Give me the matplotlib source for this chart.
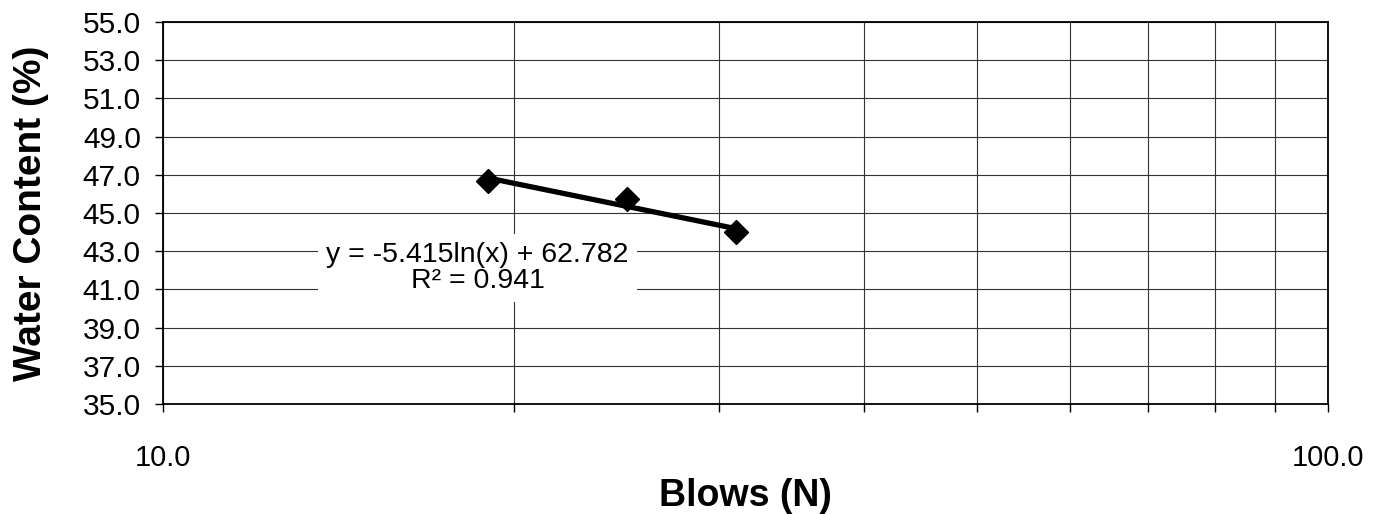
import numpy as np
import matplotlib
matplotlib.use('Agg')
import matplotlib.pyplot as plt
from matplotlib.ticker import FixedLocator, NullFormatter

plt.rcParams['font.family'] = ['Liberation Sans', 'DejaVu Sans']

# Liquid limit test: blows vs water content
golpes = [19, 25, 31]
umidade = [46.7, 45.75, 44.0]

# Logarithmic trendline coefficients
coef_a = -5.415
coef_b = 62.782
r2 = 0.941

y_ticks = [35.0, 37.0, 39.0, 41.0, 43.0, 45.0, 47.0, 49.0, 51.0, 53.0, 55.0]
x_ticks = [10.0, 100.0]

fig = plt.figure(figsize=(13.82, 5.14), dpi=100)
ax = fig.add_axes([0.118, 0.214, 0.843, 0.743])

ax.set_xscale('log')
ax.set_xlim(10, 100)
ax.set_ylim(35, 55)

# Grid
ax.xaxis.set_major_locator(FixedLocator(x_ticks))
ax.xaxis.set_minor_locator(FixedLocator([20, 30, 40, 50, 60, 70, 80, 90]))
ax.xaxis.set_minor_formatter(NullFormatter())
ax.set_xticklabels(['%.1f' % v for v in x_ticks])
ax.set_yticks(y_ticks)
ax.set_yticklabels(['%.1f' % v for v in y_ticks])
ax.grid(True, which='both', color='#333333', linewidth=0.8)
ax.set_axisbelow(True)

for s in ax.spines.values():
    s.set_linewidth(1.3)
    s.set_color('black')

ax.tick_params(axis='both', which='both', direction='out', length=6, width=1,
               color='black')
ax.tick_params(axis='y', labelsize=21.5, pad=10)
ax.tick_params(axis='x', labelsize=21, pad=23)

# Trendline
xt = np.linspace(min(golpes), max(golpes), 50)
yt = coef_a * np.log(xt) + coef_b
ax.plot(xt, yt, color='black', linewidth=3.8, zorder=3)

# Points
ax.plot(golpes, umidade, linestyle='none', marker='D', markersize=12.5,
        color='black', zorder=4)

eq = 'y = %.3fln(x) + %.3f\nR² = %.3f' % (coef_a, coef_b, r2)
ax.text(0.27, 0.356, eq, transform=ax.transAxes, ha='center', va='center',
        fontsize=20.5, linespacing=1.0, zorder=5,
        bbox=dict(facecolor='white', edgecolor='none', pad=6))

ax.set_xlabel('Blows (N)', fontsize=27, fontweight='bold', labelpad=4)
ax.set_ylabel('Water Content (%)', fontsize=28, fontweight='bold', labelpad=24)

fig.savefig('out.png', dpi=100)
